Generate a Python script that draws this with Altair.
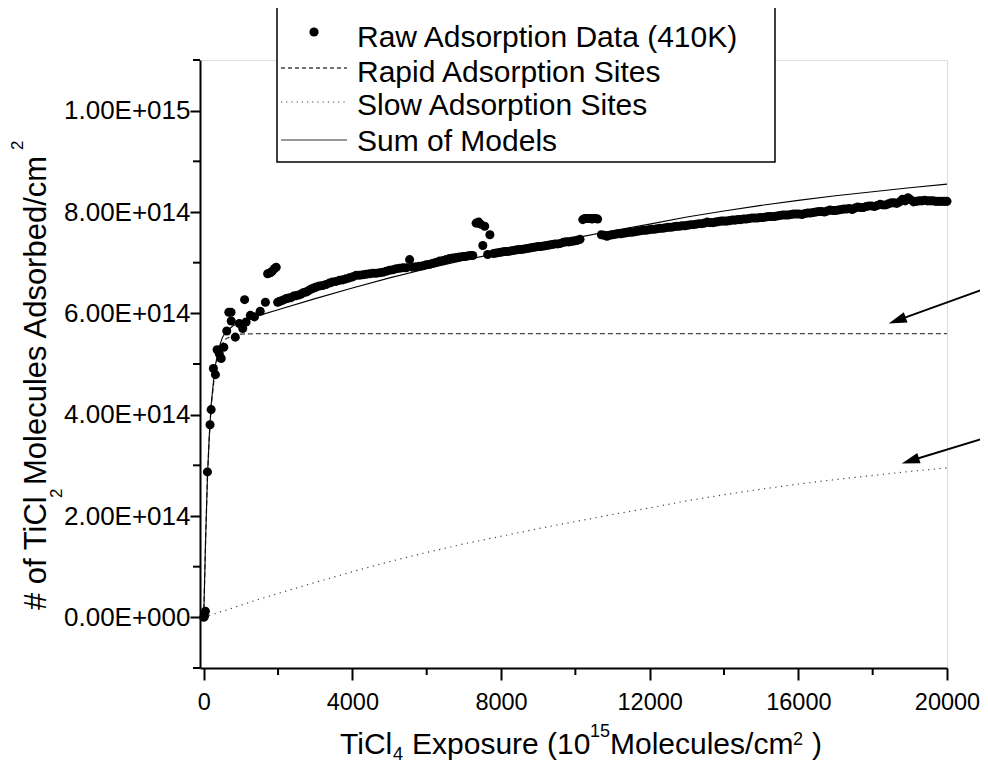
import altair as alt
import pandas as pd

FONT = "Liberation Sans"

# ---------------- data (y values in units of 1e14 molecules/cm^2) ----------------
raw_x = [0, 20, 45, 100, 170, 200, 260, 315, 360, 420, 470, 540, 620, 675, 735, 740,
         850, 960, 1050, 1100, 1140, 1255, 1365, 1520, 1660, 1720, 1790, 1840, 1900, 1950,
         1990, 2100, 2220, 2350, 2490, 2620, 2760, 2890, 3025, 3200, 3385, 3560, 3740, 3920,
         4100, 4280, 4460, 4640, 4820, 5000, 5180, 5360, 5540, 5700, 5900, 6080, 6260, 6440,
         6610, 6790, 6970, 7100, 7240, 7330, 7400, 7450, 7510, 7560, 7640, 7700, 7800, 7950,
         8100, 8250, 8400, 8550, 8700, 8850, 9000, 9150, 9300, 9450, 9600, 9750, 9900, 10050,
         10200, 10300, 10400, 10500, 10600, 10700, 10850, 11000, 11150, 11300, 11450, 11600,
         11750, 11900, 12050, 12200, 12350, 12500, 12650, 12800, 12950, 13100, 13250, 13400,
         13550, 13700, 13850, 14000, 14150, 14300, 14450, 14600, 14750, 14900, 15050, 15200,
         15350, 15500, 15650, 15800, 15950, 16100, 16250, 16400, 16550, 16700, 16850, 17000,
         17150, 17300, 17450, 17600, 17750, 17900, 18050, 18200, 18350, 18500, 18650, 18800,
         18950, 19100, 19250, 19400, 19550, 19700, 19850, 20000]
raw_y = [0.00, 0.02, 0.12, 2.87, 3.80, 4.10, 4.91, 4.79, 5.28, 5.20, 5.11, 5.33, 5.65, 6.02, 6.02, 5.85,
         5.53, 5.80, 5.70, 6.27, 5.83, 5.96, 5.93, 6.04, 6.22, 6.78, 6.80, 6.83, 6.88, 6.91,
         6.22, 6.25, 6.29, 6.31, 6.35, 6.38, 6.42, 6.48, 6.52, 6.55, 6.60, 6.63, 6.66, 6.70,
         6.75, 6.76, 6.78, 6.79, 6.81, 6.85, 6.88, 6.90, 7.06, 6.92, 6.94, 6.97, 7.01, 7.04,
         7.08, 7.10, 7.12, 7.13, 7.14, 7.78, 7.80, 7.76, 7.34, 7.72, 7.16, 7.55, 7.18, 7.20,
         7.22, 7.23, 7.25, 7.26, 7.28, 7.30, 7.32, 7.33, 7.35, 7.37, 7.38, 7.41, 7.42, 7.44,
         7.85, 7.87, 7.87, 7.87, 7.86, 7.55, 7.52, 7.55, 7.57, 7.58, 7.60, 7.61,
         7.63, 7.64, 7.66, 7.67, 7.68, 7.70, 7.71, 7.72, 7.73, 7.75, 7.76, 7.77,
         7.80, 7.79, 7.81, 7.82, 7.83, 7.84, 7.85, 7.86, 7.88, 7.88, 7.89, 7.91,
         7.91, 7.93, 7.94, 7.95, 7.96, 7.95, 7.98, 7.99, 8.01, 8.00, 8.04, 8.03,
         8.05, 8.06, 8.05, 8.10, 8.09, 8.12, 8.11, 8.15, 8.14, 8.18, 8.17, 8.25,
         8.28, 8.20, 8.22, 8.23, 8.22, 8.21, 8.21, 8.21]
# further readings in between (the dense band of raw points)
raw_x_dense = [2045, 2160, 2285, 2420, 2555, 2690, 2825, 2960, 3110, 3290, 3470, 3650, 3830,
               4010, 4190, 4370, 4550, 4730, 4910, 5090, 5270, 5450, 5620, 5800, 5990, 6170,
               6350, 6525, 6700, 6880, 7035, 7170, 7870, 8025, 8175, 8325, 8475, 8625, 8775,
               8925, 9075, 9225, 9375, 9525, 9675, 9825, 9975, 10125, 10250, 10350, 10450,
               10550, 10775, 10925, 11075, 11225, 11375, 11525, 11675, 11825, 11975, 12125,
               12275, 12425, 12575, 12725, 12875, 13025, 13175, 13325, 13475, 13625, 13775,
               13925, 14075, 14225, 14375, 14525, 14675, 14825, 14975, 15125, 15275, 15425,
               15575, 15725, 15875, 16025, 16175, 16325, 16475, 16625, 16775, 16925, 17075,
               17225, 17375, 17525, 17675, 17825, 17975, 18125, 18275, 18425, 18575, 18725,
               18875, 19025, 19175, 19325, 19475, 19625, 19775, 19925]
raw_y_dense = [6.24, 6.27, 6.30, 6.34, 6.36, 6.41, 6.45, 6.50, 6.54, 6.57, 6.62, 6.65, 6.68,
               6.72, 6.75, 6.77, 6.79, 6.80, 6.83, 6.86, 6.89, 6.90, 6.91, 6.93, 6.96, 6.99,
               7.03, 7.06, 7.09, 7.11, 7.12, 7.14, 7.19, 7.21, 7.22, 7.24, 7.26, 7.27, 7.29,
               7.31, 7.32, 7.34, 7.36, 7.37, 7.40, 7.41, 7.43, 7.46, 7.87, 7.87, 7.86,
               7.87, 7.54, 7.54, 7.56, 7.57, 7.59, 7.60, 7.62, 7.64, 7.65, 7.66,
               7.68, 7.69, 7.70, 7.72, 7.73, 7.74, 7.75, 7.77, 7.78, 7.79, 7.80,
               7.82, 7.82, 7.84, 7.85, 7.86, 7.87, 7.88, 7.89, 7.90, 7.91, 7.92,
               7.94, 7.94, 7.96, 7.96, 7.97, 7.98, 8.00, 8.01, 8.02, 8.03, 8.04,
               8.06, 8.07, 8.08, 8.09, 8.11, 8.12, 8.13, 8.14, 8.16, 8.18, 8.20,
               8.22, 8.24, 8.21, 8.22, 8.22, 8.22, 8.21, 8.21]

model_x = [0, 50, 100, 150, 200, 300, 400, 500, 600, 800, 1000, 1500, 2000, 3000, 4000,
           5000, 6000, 7000, 8000, 9000, 10000, 11000, 12000, 13000, 14000, 15000, 16000,
           17000, 18000, 19000, 20000]
rapid_y = [0.00, 1.50, 2.75, 3.55, 4.15, 4.85, 5.20, 5.40, 5.50, 5.57, 5.59, 5.60, 5.60, 5.60, 5.60,
           5.60, 5.60, 5.60, 5.60, 5.60, 5.60, 5.60, 5.60, 5.60, 5.60, 5.60, 5.60,
           5.60, 5.60, 5.60, 5.60]
slow_y = [0.00, 0.01, 0.02, 0.04, 0.05, 0.07, 0.10, 0.12, 0.14, 0.19, 0.24, 0.36, 0.47, 0.69, 0.90,
          1.10, 1.28, 1.45, 1.60, 1.75, 1.89, 2.03, 2.16, 2.30, 2.42, 2.53, 2.63,
          2.72, 2.80, 2.88, 2.95]
sum_y = [0.00, 1.51, 2.77, 3.59, 4.20, 4.92, 5.30, 5.52, 5.64, 5.76, 5.83, 5.96, 6.07, 6.29, 6.50,
         6.70, 6.88, 7.05, 7.20, 7.35, 7.49, 7.63, 7.76, 7.90, 8.02, 8.13, 8.23,
         8.32, 8.40, 8.48, 8.55]

# annotation arrows (tail -> head centre), data units
arrow_x = [21150, 21150]
arrow_y = [6.52, 3.57]
arrow_x2 = [18660, 19013]
arrow_y2 = [5.86, 3.09]
arrow_angle = [340, 343]

x_major = [0, 4000, 8000, 12000, 16000, 20000]
x_minor = [2000, 6000, 10000, 14000, 18000]
y_major = [0.0, 2e14, 4e14, 6e14, 8e14, 1e15]
y_major_labels = ["0.00E+000", "2.00E+014", "4.00E+014", "6.00E+014", "8.00E+014", "1.00E+015"]
y_minor = [-1e14, 1e14, 3e14, 5e14, 7e14, 9e14, 1.1e15]

legend_labels = ["Raw Adsorption Data (410K)", "Rapid Adsorption Sites",
                 "Slow Adsorption Sites", "Sum of Models"]

E14 = 1e14
all_x = raw_x + raw_x_dense
all_y = raw_y + raw_y_dense
raw_df = pd.DataFrame({"x": all_x, "y": [v * E14 for v in all_y]})
rapid_df = pd.DataFrame({"x": model_x, "y": [v * E14 for v in rapid_y]})
slow_df = pd.DataFrame({"x": model_x, "y": [v * E14 for v in slow_y]})
sum_df = pd.DataFrame({"x": model_x, "y": [v * E14 for v in sum_y]})
arrow_df = pd.DataFrame({"x": arrow_x, "y": [v * E14 for v in arrow_y],
                         "x2": arrow_x2, "y2": [v * E14 for v in arrow_y2],
                         "angle": arrow_angle})
xminor_df = pd.DataFrame({"x": x_minor})
yminor_df = pd.DataFrame({"y": y_minor})
dummy = pd.DataFrame({"d": [0]})

W, H = 747, 608
xscale = alt.Scale(domain=[-100, 20000], nice=False, zero=False)
yscale = alt.Scale(domain=[-1e14, 1.1e15], nice=False, zero=False)

label_expr = " : ".join(f"datum.value === {v} ? '{l}'" for v, l in zip(y_major, y_major_labels)) + " : ''"

x_axis = alt.Axis(values=x_major, format="d", title=None, grid=False, tickSize=12, tickWidth=2,
                  domainWidth=2, domainColor="black", tickColor="black", labelColor="black",
                  labelFont=FONT, labelFontSize=23.5, labelPadding=10, labelFlush=False,
                  labelOverlap=False)
y_axis = alt.Axis(values=y_major, labelExpr=label_expr, title=None, grid=False, tickSize=10,
                  tickWidth=2, domainWidth=2, domainColor="black", tickColor="black",
                  labelColor="black", labelFont=FONT, labelFontSize=26, labelPadding=0,
                  labelFlush=False, labelOverlap=False)

X = alt.X("x:Q", scale=xscale, axis=x_axis)
Y = alt.Y("y:Q", scale=yscale, axis=y_axis)

rapid = alt.Chart(rapid_df).mark_line(color="#444444", strokeWidth=1.3, strokeDash=[5, 3]).encode(x=X, y=Y)
slow = alt.Chart(slow_df).mark_line(color="#444444", strokeWidth=1.2, strokeDash=[1.2, 4.5]).encode(x=X, y=Y)
summ = alt.Chart(sum_df).mark_line(color="black", strokeWidth=1.1).encode(x=X, y=Y)
points = alt.Chart(raw_df).mark_circle(color="black", opacity=1, size=82).encode(x=X, y=Y)

arrow_lines = alt.Chart(arrow_df).mark_rule(color="black", strokeWidth=2).encode(
    x=X, y=Y, x2="x2:Q", y2="y2:Q")
arrow_heads = alt.Chart(arrow_df).mark_point(
    shape="M-1,0L1,-0.6L1,0.6Z", filled=True, color="black", opacity=1, size=324).encode(
    x=alt.X("x2:Q", scale=xscale, axis=x_axis), y=alt.Y("y2:Q", scale=yscale, axis=y_axis),
    angle=alt.Angle("angle:Q", scale=None))

x_minor_ticks = alt.Chart(xminor_df).mark_rule(color="black", strokeWidth=2).encode(
    x=X, y=alt.value(H), y2=alt.value(H + 7))
y_minor_ticks = alt.Chart(yminor_df).mark_rule(color="black", strokeWidth=2).encode(
    y=Y, x=alt.value(0), x2=alt.value(-7))


def txt(s, x, y, size, angle=0):
    return alt.Chart(dummy).mark_text(text=s, font=FONT, fontSize=size, align="left",
                                      baseline="alphabetic", angle=angle, color="black").encode(
        x=alt.value(x), y=alt.value(y))


# legend box (manual, Origin style); positions relative to the plot's top-left corner
leg_box = alt.Chart(dummy).mark_rect(fill="white", stroke="black", strokeWidth=1.5).encode(
    x=alt.value(77), x2=alt.value(575), y=alt.value(-53), y2=alt.value(102))
leg_dot = alt.Chart(dummy).mark_circle(color="black", opacity=1, size=85).encode(
    x=alt.value(114), y=alt.value(-28))
leg_dash = alt.Chart(dummy).mark_rule(color="#444444", strokeWidth=1.3, strokeDash=[4, 3]).encode(
    x=alt.value(81), x2=alt.value(147), y=alt.value(8))
leg_dot_line = alt.Chart(dummy).mark_rule(color="#444444", strokeWidth=1.2, strokeDash=[1.2, 4]).encode(
    x=alt.value(81), x2=alt.value(147), y=alt.value(42))
leg_solid = alt.Chart(dummy).mark_rule(color="#333333", strokeWidth=1.2).encode(
    x=alt.value(81), x2=alt.value(147), y=alt.value(80))
leg_texts = [txt(legend_labels[0], 157, -13, 30),
             txt(legend_labels[1], 157, 22, 30),
             txt(legend_labels[2], 157, 55, 30),
             txt(legend_labels[3], 157, 91, 30)]

# x-axis title with sub/superscripts
x_title = [txt("TiCl", 140, 694, 30),
           txt("4", 193, 700, 18),
           txt("Exposure (10", 212, 694, 30),
           txt("15", 390, 677, 18),
           txt("Molecules/cm", 410, 694, 30),
           txt("2", 593, 685, 18),
           txt(")", 612, 694, 30)]

# y-axis title (rotated) with sub/superscripts
y_title = [txt("# of TiCl", -154, 550, 31, 270),
           txt("2", -138, 438, 17, 270),
           txt("Molecules Adsorbed/cm", -154, 425, 31, 270),
           txt("2", -177, 90, 17, 270)]

chart = alt.layer(
    slow, rapid, summ, points, arrow_lines, arrow_heads, x_minor_ticks, y_minor_ticks,
    leg_box, leg_dot, leg_dash, leg_dot_line, leg_solid, *leg_texts, *x_title, *y_title
).properties(
    width=W, height=H, autosize=alt.AutoSizeParams(type="none"),
    padding={"left": 192, "top": 52, "right": 33, "bottom": 95}
).configure_view(stroke="transparent").configure(background="white")

chart.save("out.html", embed_options={"renderer": "svg", "actions": False})
